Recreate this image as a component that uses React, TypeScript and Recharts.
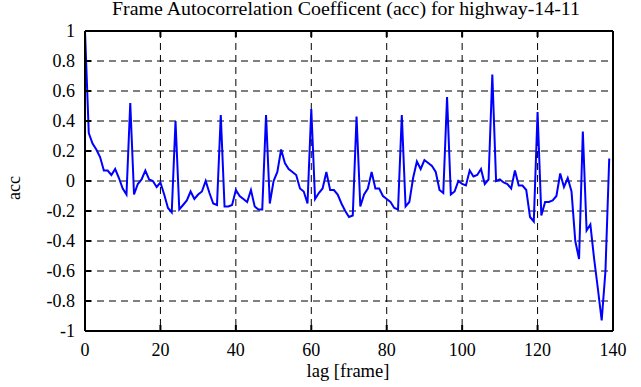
import React from "react";
import {
  LineChart,
  Line,
  XAxis,
  YAxis,
  CartesianGrid,
  Label,
} from "recharts";

// autocorrelation coefficient per lag (frame 0..139)
const acc = [
  1.0, 0.32, 0.25, 0.21, 0.16, 0.07, 0.07, 0.04, 0.08, 0.02,
  -0.05, -0.09, 0.52, -0.09, -0.02, 0.01, 0.07, 0.01, 0.0, -0.04,
  -0.01, -0.09, -0.18, -0.21, 0.4, -0.19, -0.16, -0.13, -0.07, -0.12,
  -0.09, -0.07, 0.0, -0.08, -0.15, -0.16, 0.44, -0.17, -0.17, -0.16,
  -0.06, -0.1, -0.12, -0.14, -0.06, -0.17, -0.19, -0.19, 0.44, -0.15,
  0.0, 0.06, 0.21, 0.12, 0.08, 0.06, 0.04, -0.05, -0.07, -0.15,
  0.48, -0.12, -0.08, -0.05, 0.06, -0.06, -0.06, -0.09, -0.15, -0.2,
  -0.24, -0.23, 0.43, -0.17, -0.09, -0.05, 0.06, -0.05, -0.05, -0.1,
  -0.12, -0.14, -0.18, -0.19, 0.44, -0.17, -0.14, 0.02, 0.13, 0.08,
  0.14, 0.12, 0.1, 0.06, -0.06, -0.08, 0.56, -0.09, -0.07, 0.0,
  -0.02, -0.03, 0.07, 0.03, 0.04, 0.08, -0.02, 0.01, 0.71, 0.0,
  0.01, -0.01, -0.02, -0.05, 0.07, -0.03, -0.03, -0.06, -0.24, -0.27,
  0.46, -0.23, -0.14, -0.14, -0.13, -0.1, 0.05, -0.04, 0.02, -0.07,
  -0.4, -0.52, 0.33, -0.33, -0.29, -0.52, -0.72, -0.93, -0.6, 0.15,
];

const xTicks = [0, 20, 40, 60, 80, 100, 120, 140];
const yTicks = [-1, -0.8, -0.6, -0.4, -0.2, 0, 0.2, 0.4, 0.6, 0.8, 1];

const title = "Frame Autocorrelation Coefficent (acc) for highway-14-11";

const data = acc.map((v, i) => ({ lag: i, acc: v }));

const font = "'Liberation Serif', serif";
const txt = { fontFamily: font, fontSize: 18 };
const TICK = 6;

const BottomTick = (p: any) => (
  <g>
    <line x1={p.x} x2={p.x} y1={p.y} y2={p.y - TICK} stroke="#000" strokeWidth={2} />
    <text x={p.x} y={p.y + 25} textAnchor="middle" style={txt} fill="#000">
      {p.payload.value}
    </text>
  </g>
);

const TopTick = (p: any) => (
  <line x1={p.x} x2={p.x} y1={p.y} y2={p.y + TICK} stroke="#000" strokeWidth={2} />
);

const LeftTick = (p: any) => (
  <g>
    <line x1={p.x} x2={p.x + TICK} y1={p.y} y2={p.y} stroke="#000" strokeWidth={2} />
    <text x={p.x - 10} y={p.y + 6} textAnchor="end" style={txt} fill="#000">
      {String(p.payload.value)}
    </text>
  </g>
);

const RightTick = (p: any) => (
  <line x1={p.x} x2={p.x - TICK} y1={p.y} y2={p.y} stroke="#000" strokeWidth={2} />
);

export default function App() {
  return (
    <div style={{ width: 641, height: 387, background: "#fff", fontFamily: font }}>
      <style>{`body{margin:0}`}</style>
      <LineChart
        width={641}
        height={387}
        data={data}
        margin={{ top: 30, right: 27, bottom: 0, left: 0 }}
      >
        <CartesianGrid
          stroke="#000"
          strokeDasharray="7 5"
          verticalValues={xTicks}
          horizontalValues={yTicks}
        />
        <XAxis
          dataKey="lag"
          type="number"
          domain={[0, 140]}
          ticks={xTicks}
          height={56}
          tickSize={0}
          tickMargin={0}
          tickLine={false}
          tick={BottomTick}
          axisLine={{ stroke: "#000", strokeWidth: 2 }}
          interval={0}
        >
          <Label
            content={() => (
              <text
                x={348}
                y={377}
                textAnchor="middle"
                textLength={83}
                lengthAdjust="spacingAndGlyphs"
                style={txt}
                fill="#000"
              >
                lag [frame]
              </text>
            )}
          />
        </XAxis>
        <XAxis
          xAxisId="top"
          orientation="top"
          dataKey="lag"
          type="number"
          domain={[0, 140]}
          ticks={xTicks}
          height={1}
          tickSize={0}
          tickMargin={0}
          tickLine={false}
          tick={TopTick}
          axisLine={{ stroke: "#000", strokeWidth: 2 }}
          interval={0}
        >
          <Label
            content={() => (
              <text
                x={346}
                y={15}
                textAnchor="middle"
                textLength={468}
                lengthAdjust="spacingAndGlyphs"
                style={txt}
                fill="#000"
              >
                {title}
              </text>
            )}
          />
        </XAxis>
        <YAxis
          type="number"
          domain={[-1, 1]}
          ticks={yTicks}
          width={85}
          tickSize={0}
          tickMargin={0}
          tickLine={false}
          tick={LeftTick}
          axisLine={{ stroke: "#000", strokeWidth: 2 }}
          interval={0}
        >
          <Label
            content={() => (
              <text
                x={20}
                y={188}
                transform="rotate(-90 20 188)"
                textAnchor="middle"
                style={txt}
                fill="#000"
              >
                acc
              </text>
            )}
          />
        </YAxis>
        <YAxis
          yAxisId="right"
          orientation="right"
          type="number"
          domain={[-1, 1]}
          ticks={yTicks}
          width={1}
          tickSize={0}
          tickMargin={0}
          tickLine={false}
          tick={RightTick}
          axisLine={{ stroke: "#000", strokeWidth: 2 }}
          interval={0}
        />
        <Line
          type="linear"
          dataKey="acc"
          stroke="#0000ff"
          strokeWidth={2}
          dot={false}
          isAnimationActive={false}
        />
      </LineChart>
    </div>
  );
}
